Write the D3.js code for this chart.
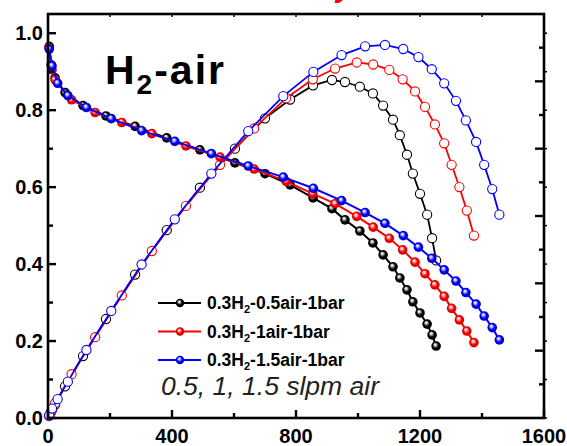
<!DOCTYPE html>
<html>
<head>
<meta charset="utf-8">
<script src="https://cdn.jsdelivr.net/npm/d3@7"></script>
<style>
	body { margin: 0; background: #fff; }
	svg { display: block; }
</style>
</head>
<body>
<svg id="main_svg"></svg>
<script>
const WIDTH = 567;
const HEIGHT = 446;

// current density (mA/cm2), voltage (V), power density (W/cm2)
const current_black = [4, 10, 23, 55, 113, 187, 281, 383, 490, 603, 700, 781, 855, 916, 958, 1006, 1048, 1081, 1113, 1135, 1158, 1177, 1200, 1223, 1239, 1252];
const volt_black = [0.966, 0.918, 0.884, 0.846, 0.812, 0.785, 0.758, 0.728, 0.697, 0.663, 0.635, 0.606, 0.572, 0.544, 0.515, 0.486, 0.455, 0.424, 0.393, 0.364, 0.333, 0.302, 0.273, 0.244, 0.216, 0.187];
const power_black = [0.004, 0.009, 0.020, 0.047, 0.092, 0.147, 0.213, 0.279, 0.342, 0.400, 0.445, 0.473, 0.494, 0.502, 0.499, 0.492, 0.482, 0.464, 0.443, 0.420, 0.391, 0.363, 0.333, 0.302, 0.267, 0.234];

const current_red = [3, 13, 23, 76, 152, 238, 335, 445, 555, 665, 768, 854, 926, 996, 1049, 1101, 1144, 1184, 1216, 1248, 1278, 1302, 1327, 1351, 1374];
const volt_red = [0.962, 0.905, 0.879, 0.827, 0.794, 0.768, 0.739, 0.707, 0.678, 0.647, 0.615, 0.583, 0.557, 0.524, 0.496, 0.467, 0.437, 0.405, 0.375, 0.346, 0.316, 0.285, 0.255, 0.226, 0.196];
const power_red = [0.003, 0.012, 0.022, 0.065, 0.120, 0.182, 0.248, 0.315, 0.376, 0.430, 0.475, 0.503, 0.519, 0.528, 0.525, 0.517, 0.503, 0.485, 0.462, 0.436, 0.408, 0.376, 0.343, 0.308, 0.271];

const current_blue = [4, 13, 31, 64, 124, 204, 302, 409, 527, 646, 759, 856, 947, 1023, 1087, 1146, 1195, 1238, 1278, 1316, 1348, 1381, 1407, 1433, 1456];
const volt_blue = [0.959, 0.915, 0.870, 0.838, 0.807, 0.778, 0.747, 0.719, 0.687, 0.655, 0.626, 0.597, 0.565, 0.534, 0.506, 0.474, 0.444, 0.415, 0.385, 0.356, 0.326, 0.296, 0.265, 0.235, 0.203];
const power_blue = [0.004, 0.014, 0.028, 0.054, 0.101, 0.159, 0.228, 0.295, 0.363, 0.426, 0.478, 0.514, 0.539, 0.552, 0.554, 0.548, 0.536, 0.518, 0.497, 0.471, 0.442, 0.410, 0.376, 0.340, 0.302];

const legend_labels = [['0.3H', '2', '-0.5air-1bar'], ['0.3H', '2', '-1air-1bar'], ['0.3H', '2', '-1.5air-1bar']];
const x_ticks = [0, 400, 800, 1200, 1600];
const y_ticks = [0.0, 0.2, 0.4, 0.6, 0.8, 1.0];

const series = [
	{ name: 'black', color: '#000000', light: '#c8c8c8', dark: '#000000', I: current_black, V: volt_black, P: power_black },
	{ name: 'red', color: '#ff0000', light: '#ffc0c0', dark: '#c00000', I: current_red, V: volt_red, P: power_red },
	{ name: 'blue', color: '#0000ff', light: '#c0c0ff', dark: '#0000b0', I: current_blue, V: volt_blue, P: power_blue }
];

const L = 48, R = 544, T = 14, B = 418;

const svg = d3.select('#main_svg').attr('width', WIDTH).attr('height', HEIGHT);
const FONT = '"Liberation Sans", Arial, sans-serif';

const x = d3.scaleLinear().domain([0, 1600]).range([L, R]);
const y = d3.scaleLinear().domain([0, 1.05]).range([B, T]);
const y2 = d3.scaleLinear().domain([0, 0.6]).range([B, T]);

// sphere gradients for the filled markers
const defs = svg.append('defs');
series.forEach(s => {
	const g = defs.append('radialGradient')
		.attr('id', 'ball_' + s.name)
		.attr('cx', '50%').attr('cy', '50%').attr('r', '55%')
		.attr('fx', '38%').attr('fy', '32%');
	g.append('stop').attr('offset', '0%').attr('stop-color', '#ffffff');
	g.append('stop').attr('offset', '22%').attr('stop-color', s.light);
	g.append('stop').attr('offset', '55%').attr('stop-color', s.color);
	g.append('stop').attr('offset', '100%').attr('stop-color', s.dark);
});

// red title fragment cut at the top
svg.append('text')
	.attr('x', 336).attr('y', -3)
	.attr('font-family', FONT).attr('font-weight', 'bold').attr('font-style', 'italic')
	.attr('font-size', 30).attr('fill', '#ff0000')
	.text('y');

const plot = svg.append('g');

const line_v = d3.line().x(d => x(d[0])).y(d => y(d[1]));
const line_p = d3.line().x(d => x(d[0])).y(d => y2(d[1]));

// power density curves (open circles)
series.forEach(s => {
	const data = s.I.map((e, i) => [e, s.P[i]]);
	plot.append('path').datum(data)
		.attr('d', line_p)
		.attr('fill', 'none').attr('stroke', s.color).attr('stroke-width', 1.8);
	plot.selectAll('.open_' + s.name)
		.data(data).enter().append('circle')
		.attr('class', 'open_' + s.name)
		.attr('cx', d => x(d[0])).attr('cy', d => y2(d[1])).attr('r', 4.6)
		.attr('fill', '#fff').attr('stroke', s.color).attr('stroke-width', 1.1);
});

// polarization curves (filled balls)
series.forEach(s => {
	const data = s.I.map((e, i) => [e, s.V[i]]);
	plot.append('path').datum(data)
		.attr('d', line_v)
		.attr('fill', 'none').attr('stroke', s.color).attr('stroke-width', 2);
	plot.selectAll('.ball_' + s.name)
		.data(data).enter().append('circle')
		.attr('class', 'ball_' + s.name)
		.attr('cx', d => x(d[0])).attr('cy', d => y(d[1])).attr('r', 4.8)
		.attr('fill', `url(#ball_${s.name})`);
});

// axes
const axis = svg.append('g').attr('stroke', '#000');
// frame
axis.append('rect')
	.attr('x', L).attr('y', T).attr('width', R - L).attr('height', B - T)
	.attr('fill', 'none').attr('stroke-width', 2.6);

// bottom axis ticks (inward), tiny ticks on top
d3.range(0, 1601, 200).forEach(v => {
	const major = v % 400 === 0;
	axis.append('line')
		.attr('x1', x(v)).attr('x2', x(v))
		.attr('y1', B).attr('y2', B - (major ? 8 : 5))
		.attr('stroke-width', 2.4);
	axis.append('line')
		.attr('x1', x(v)).attr('x2', x(v))
		.attr('y1', T).attr('y2', T + 3)
		.attr('stroke-width', 1.5);
});

// left axis ticks (inward) + mirrored tiny ticks at the right
d3.range(0, 11).forEach(k => {
	const v = k / 10;
	const major = k % 2 === 0;
	axis.append('line')
		.attr('x1', L).attr('x2', L + (major ? 8 : 5))
		.attr('y1', y(v)).attr('y2', y(v))
		.attr('stroke-width', 2.4);
	axis.append('line')
		.attr('x1', R).attr('x2', R + 3)
		.attr('y1', y(v)).attr('y2', y(v))
		.attr('stroke-width', 1.5);
});

// right axis ticks (power density, inward)
d3.range(1, 12).forEach(k => {
	const v = k * 0.05;
	const major = k % 2 === 0;
	axis.append('line')
		.attr('x1', R).attr('x2', R - (major ? 9 : 5))
		.attr('y1', y2(v)).attr('y2', y2(v))
		.attr('stroke-width', 2.4);
});

// tick labels
const labels = svg.append('g')
	.attr('font-family', FONT).attr('font-weight', 'bold').attr('font-size', 20).attr('fill', '#000');

x_ticks.forEach(v => {
	labels.append('text')
		.attr('x', x(v)).attr('y', 443)
		.attr('text-anchor', 'middle')
		.text(v);
});
y_ticks.forEach(v => {
	labels.append('text')
		.attr('x', 43).attr('y', y(v) + 7)
		.attr('text-anchor', 'end')
		.text(v.toFixed(1));
});

// H2-air label
const h2 = svg.append('text')
	.attr('x', 105).attr('y', 84)
	.attr('font-family', FONT).attr('font-weight', 'bold').attr('font-size', 41)
	.attr('letter-spacing', 2).attr('fill', '#000');
h2.append('tspan').text('H');
h2.append('tspan').attr('font-size', 28).attr('dy', 10).text('2');
h2.append('tspan').attr('dy', -10).text('-air');

// legend
const legend = svg.append('g');
series.forEach((s, i) => {
	const cy = 303 + i * 28.5;
	legend.append('line')
		.attr('x1', 158).attr('x2', 201).attr('y1', cy).attr('y2', cy)
		.attr('stroke', s.color).attr('stroke-width', 2);
	legend.append('circle')
		.attr('cx', 180).attr('cy', cy).attr('r', 4.2)
		.attr('fill', `url(#ball_${s.name})`);
	const t = legend.append('text')
		.attr('x', 207).attr('y', cy + 6)
		.attr('font-family', FONT).attr('font-weight', 'bold').attr('font-size', 17.5).attr('fill', '#000');
	t.append('tspan').text(legend_labels[i][0]);
	t.append('tspan').attr('font-size', 11).attr('dy', 4).text(legend_labels[i][1]);
	t.append('tspan').attr('dy', -4).text(legend_labels[i][2]);
});

svg.append('text')
	.attr('x', 161).attr('y', 395)
	.attr('font-family', FONT).attr('font-style', 'italic').attr('font-size', 26.5).attr('fill', '#222')
	.text('0.5, 1, 1.5 slpm air');
</script>
</body>
</html>
